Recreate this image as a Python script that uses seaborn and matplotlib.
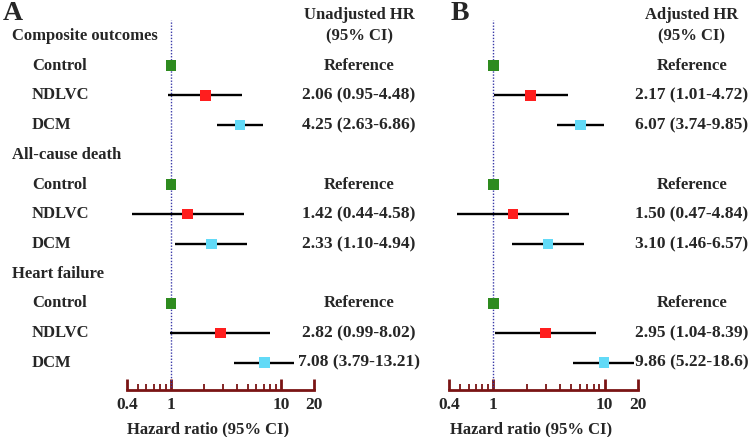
import numpy as np
import pandas as pd
import matplotlib
matplotlib.use("Agg")
import matplotlib.pyplot as plt
import matplotlib.transforms as mtransforms
from matplotlib.ticker import FixedLocator, NullFormatter, FixedFormatter
import seaborn as sns

# Forest plot: unadjusted (A) vs adjusted (B) hazard ratios

row_labels = ["Composite outcomes", "Control", "NDLVC", "DCM",
              "All-cause death", "Control", "NDLVC", "DCM",
              "Heart failure", "Control", "NDLVC", "DCM"]
header_rows = [0, 4, 8]

groups = ["Control", "NDLVC", "DCM"] * 3
group_rows = [1, 2, 3, 5, 6, 7, 9, 10, 11]

hr_a = [1, 2.06, 4.25, 1, 1.42, 2.33, 1, 2.82, 7.08]
lo_a = [None, 0.95, 2.63, None, 0.44, 1.10, None, 0.99, 3.79]
hi_a = [None, 4.48, 6.86, None, 4.58, 4.94, None, 8.02, 13.21]
txt_a = ["Reference", "2.06 (0.95-4.48)", "4.25 (2.63-6.86)",
         "Reference", "1.42 (0.44-4.58)", "2.33 (1.10-4.94)",
         "Reference", "2.82 (0.99-8.02)", "7.08 (3.79-13.21)"]

hr_b = [1, 2.17, 6.07, 1, 1.50, 3.10, 1, 2.95, 9.86]
lo_b = [None, 1.01, 3.74, None, 0.47, 1.46, None, 1.04, 5.22]
hi_b = [None, 4.72, 9.85, None, 4.84, 6.57, None, 8.39, 18.6]
txt_b = ["Reference", "2.17 (1.01-4.72)", "6.07 (3.74-9.85)",
         "Reference", "1.50 (0.47-4.84)", "3.10 (1.46-6.57)",
         "Reference", "2.95 (1.04-8.39)", "9.86 (5.22-18.6)"]

major_ticks = [0.4, 1, 10, 20]
major_labels = ["0.4", "1", "10", "20"]
minor_ticks = [0.5, 0.6, 0.7, 0.8, 0.9, 2, 3, 4, 5, 6, 7, 8, 9]

palette = {"Control": "#2E8B1F", "NDLVC": "#FF1E1E", "DCM": "#62DAF7"}
axis_red = "#7A1414"

sns.set_style("white")
plt.rcParams["font.family"] = ["Liberation Serif", "DejaVu Serif"]
plt.rcParams["font.weight"] = "bold"
plt.rcParams["axes.labelweight"] = "bold"

W, H = 750, 437
fig = plt.figure(figsize=(7.5, 4.37), dpi=100)

ax_top, ax_bot = 20, 390
ylim = (11.92, -0.54)


def panel(left_px, right_px, hr, lo, hi, txt, head, txt_x, letter, letter_x):
    ax = fig.add_axes([left_px / W, 1 - ax_bot / H,
                       (right_px - left_px) / W, (ax_bot - ax_top) / H])
    df = pd.DataFrame({"hr": hr, "row": group_rows, "group": groups})
    ax.set_xscale("log")
    ax.set_xlim(0.4, 20)
    ax.set_ylim(*ylim)

    ax.axvline(1, color="#3A3AA8", ls=(0, (1, 1.2)), lw=1, zorder=1)
    for y, l, h in zip(group_rows, lo, hi):
        if l is not None:
            ax.hlines(y, l, h, color="black", lw=1.7, zorder=2)
    sns.scatterplot(data=df, x="hr", y="row", hue="group", palette=palette,
                    marker="s", s=58, edgecolor="none", legend=False,
                    ax=ax, zorder=3, clip_on=False)

    for s in ["top", "left", "right"]:
        ax.spines[s].set_visible(False)
    ax.spines["bottom"].set_color(axis_red)
    ax.spines["bottom"].set_linewidth(2)
    ax.xaxis.set_major_locator(FixedLocator(major_ticks))
    ax.xaxis.set_major_formatter(FixedFormatter(major_labels))
    ax.xaxis.set_minor_locator(FixedLocator(minor_ticks))
    ax.xaxis.set_minor_formatter(NullFormatter())
    ax.tick_params(axis="x", which="major", direction="in", length=8, width=2,
                   color=axis_red, labelsize=12.5, pad=5, bottom=True)
    ax.tick_params(axis="x", which="minor", direction="in", length=4, width=1.3,
                   color=axis_red, bottom=True)
    for t in ax.get_xticklabels():
        t.set_fontweight("bold")
    ax.set_yticks([])
    ax.set_ylabel("")
    ax.set_xlabel("Hazard ratio (95% CI)", fontsize=12, fontweight="bold")
    ax.xaxis.set_label_coords(0.435, -0.085)

    tr = mtransforms.blended_transform_factory(fig.transFigure, ax.transData)
    for y, t in zip(group_rows, txt):
        ax.text(txt_x / W, y, t, transform=tr, ha="center", va="center",
                fontsize=12.5 if t != "Reference" else 12, fontweight="bold")
    ax.text(txt_x / W, 1 - 15 / H, head, transform=fig.transFigure,
            ha="center", va="center", fontsize=12, fontweight="bold")
    ax.text(txt_x / W, 1 - 36 / H, "(95% CI)", transform=fig.transFigure,
            ha="center", va="center", fontsize=12, fontweight="bold")
    fig.text(letter_x / W, 1 - 14 / H, letter, ha="left", va="center",
             fontsize=20, fontweight="bold")
    return ax, tr


axA, trA = panel(127, 314, hr_a, lo_a, hi_a, txt_a, "Unadjusted HR", 359, "A", 3)
axB, trB = panel(449, 638, hr_b, lo_b, hi_b, txt_b, "Adjusted HR", 692, "B", 451)

for i, lab in enumerate(row_labels):
    if i in header_rows:
        axA.text(12 / W, i, lab, transform=trA, ha="left", va="center",
                 fontsize=12, fontweight="bold")
    else:
        axA.text(32 / W, i, lab, transform=trA, ha="left", va="center",
                 fontsize=12, fontweight="bold")

fig.savefig("out.png", dpi=100)
